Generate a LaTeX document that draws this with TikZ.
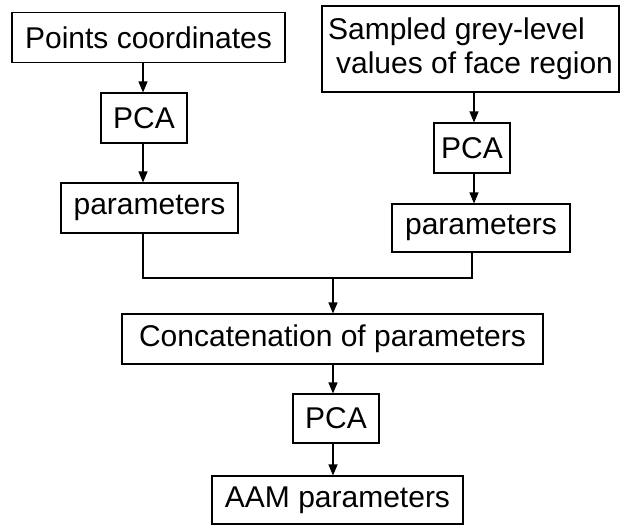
\documentclass[tikz,border=0pt]{standalone}
\usepackage{fontspec}
\setmainfont{Liberation Sans}
\usetikzlibrary{arrows.meta}

\begin{document}
\begin{tikzpicture}[x=1pt, y=-1pt, line width=1.1pt,
    box/.style={draw, inner sep=2pt, minimum height=50pt,
        font=\fontsize{30pt}{34pt}\selectfont},
    flow/.style={-{Triangle[length=11pt,width=9pt]}}]
        \useasboundingbox (0,0) rectangle (624,525);

        % Left column (shape)
        \node[box, minimum width=273pt] (pts) at (148.5,37.5) {Points coordinates};
        \node[box, minimum width=86pt] (pcaA) at (144,118) {PCA};
        \node[box, minimum width=177pt] (parA) at (149.5,208) {parameters};

        % Right column (texture)
        \node[box, minimum width=297pt, minimum height=86pt, align=left] (grey) at (470.5,49)
            {Sampled grey-level\\\hspace*{8pt}values of face region};
        \node[box, minimum width=76pt] (pcaB) at (472,148) {PCA};
        \node[box, minimum width=178pt, minimum height=48pt] (parB) at (481,228) {parameters};

        % Combined model
        \node[box, minimum width=421pt] (concat) at (332.5,339) {Concatenation of parameters};
        \node[box, minimum width=86pt, minimum height=49pt] (pcaC) at (336,418.5) {PCA};
        \node[box, minimum width=251pt, minimum height=48pt] (aam) at (337.5,500) {AAM parameters};

        % Arrows
        \draw[flow] (pts.south -| 143,0) -- (pcaA.north -| 143,0);
        \draw[flow] (pcaA.south -| 143,0) -- (parA.north -| 143,0);
        \draw[flow] (grey.south -| 474,0) -- (pcaB.north -| 474,0);
        \draw[flow] (pcaB.south -| 474,0) -- (parB.north -| 474,0);

        % Join of both parameter sets
        \coordinate (join) at (333,278);
        \draw (parA.south -| 143,0) |- (join);
        \draw (parB.south -| 472,0) |- (join);
        \draw[flow] (join) -- (concat.north -| join);
        \draw[flow] (concat.south -| join) -- (pcaC.north -| join);
        \draw[flow] (pcaC.south -| join) -- (aam.north -| join);

    \end{tikzpicture}
\end{document}
